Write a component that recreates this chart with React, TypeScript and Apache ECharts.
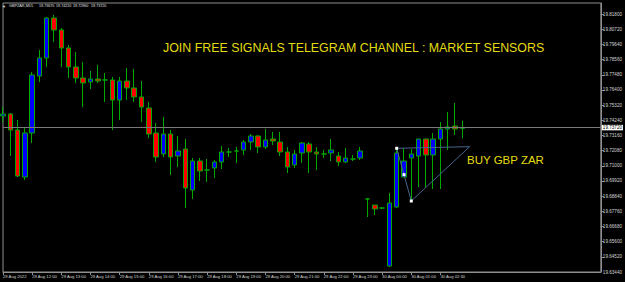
import { useEffect, useRef } from "react";
import * as echarts from "echarts";

const symbolName = "GBPZAR,M15";
const headerValues = ["19.73670", "19.74220", "19.72960", "19.73720"];
const headerX = [39, 56, 73, 91];

const timeLabels = [
  "29 Aug 2022", "29 Aug 12:00", "29 Aug 13:00", "29 Aug 14:00",
  "29 Aug 15:00", "29 Aug 16:00", "29 Aug 17:00", "29 Aug 18:00",
  "29 Aug 19:00", "29 Aug 20:00", "29 Aug 21:00", "29 Aug 22:00",
  "29 Aug 23:00", "30 Aug 00:00", "30 Aug 01:00", "30 Aug 02:30",
];
const labelEvery = 4;
const totalSlots = 83;

const opens = [
  19.74547, 19.74689, 19.7355, 19.70203, 19.73336, 19.77395, 19.78676, 19.81524, 19.8067, 19.79388,
  19.78036, 19.77252, 19.76968, 19.77181, 19.7711, 19.7711, 19.75686, 19.77039, 19.7654, 19.75902,
  19.75116, 19.73336, 19.71841, 19.73265, 19.71698, 19.72197, 19.69278, 19.71342, 19.70702, 19.70844,
  19.71271, 19.71983, 19.72054, 19.72126, 19.72695, 19.73122, 19.72339, 19.72909, 19.72695, 19.71983,
  19.71058, 19.71912, 19.72553, 19.71983, 19.71841, 19.71912, 19.71698, 19.71271, 19.71485, 19.71556,
  19.68638, 19.6821, 19.67996, 19.63866, 19.68068, 19.70203, 19.71556, 19.71698, 19.72909, 19.7177,
  19.72909, 19.73621, 19.73835, 19.7367,
];
const closes = [
  19.74689, 19.7355, 19.70274, 19.73336, 19.77466, 19.78676, 19.81524, 19.8067, 19.79388, 19.78036,
  19.77252, 19.76896, 19.77181, 19.77039, 19.7711, 19.75686, 19.77039, 19.7654, 19.75902, 19.75188,
  19.73265, 19.71627, 19.73265, 19.71627, 19.72054, 19.6942, 19.71342, 19.7063, 19.70702, 19.71271,
  19.71983, 19.71983, 19.72054, 19.72695, 19.73122, 19.72339, 19.72838, 19.72766, 19.71983, 19.70915,
  19.71841, 19.72624, 19.71983, 19.71841, 19.71841, 19.72126, 19.71271, 19.71556, 19.71485, 19.72054,
  19.68638, 19.67925, 19.67996, 19.68353, 19.71912, 19.71342, 19.71841, 19.72909, 19.7177, 19.72909,
  19.73621, 19.73764, 19.73621, 19.7372,
];
const lows = [
  19.7412, 19.71698, 19.70203, 19.6999, 19.72624, 19.76968, 19.78036, 19.79816, 19.78036, 19.77252,
  19.76896, 19.75188, 19.76469, 19.76896, 19.75544, 19.7355, 19.74262, 19.75686, 19.75544, 19.7412,
  19.7298, 19.71271, 19.71627, 19.70346, 19.70915, 19.67996, 19.68638, 19.69919, 19.69848, 19.70132,
  19.70773, 19.71627, 19.712, 19.7177, 19.72126, 19.71912, 19.72197, 19.72482, 19.71698, 19.70488,
  19.70844, 19.712, 19.70488, 19.70702, 19.71556, 19.71342, 19.70986, 19.712, 19.71342, 19.71414,
  19.67355, 19.67497, 19.67925, 19.63796, 19.67996, 19.70203, 19.68424, 19.69492, 19.6942, 19.69349,
  19.69349, 19.72126, 19.73194, 19.7296,
];
const highs = [
  19.75188, 19.7476, 19.74262, 19.73764, 19.7768, 19.79246, 19.81596, 19.81738, 19.80812, 19.79602,
  19.79104, 19.78392, 19.77751, 19.78178, 19.77608, 19.77324, 19.77324, 19.77964, 19.77893, 19.77039,
  19.75544, 19.74048, 19.74476, 19.7355, 19.73122, 19.72909, 19.71556, 19.71556, 19.71485, 19.71414,
  19.7241, 19.72268, 19.72339, 19.72838, 19.73265, 19.73194, 19.73621, 19.73408, 19.73408, 19.72339,
  19.72126, 19.72695, 19.72695, 19.72339, 19.72126, 19.72909, 19.71983, 19.72268, 19.7177, 19.72339,
  19.6871, 19.6821, 19.68068, 19.69064, 19.72268, 19.72268, 19.72197, 19.72909, 19.72909, 19.73336,
  19.7412, 19.74832, 19.75473, 19.7422,
];

const lastPrice = 19.7372;
const lastPriceLabel = "19.73720";
const yMin = 19.6344;
const yMax = 19.8259;
const yStep = 0.0108;

// triangle drawing object: [bar index, price]
const trianglePoints: [number, number][] = [
  [54, 19.72247],
  [56, 19.68495],
  [64, 19.72362],
];
const triangleMid: [number, number] = [55, 19.70371];

const bannerText = "JOIN FREE SIGNALS TELEGRAM CHANNEL : MARKET SENSORS";
const signalText = "BUY GBP ZAR";

const FONT = "Liberation Sans, Arial, sans-serif";
const AXIS_TEXT = "#d4d4d4";
const Y_LABEL_SIZE = 4.6;
// prices are handled in points (1e-5) so that the tick arithmetic is exact
const PT = 100000;
const toPt = (v: number) => Math.round(v * PT);

export default function App() {
  const ref = useRef<HTMLDivElement>(null);

  useEffect(() => {
    document.body.style.margin = "0";
    document.body.style.background = "#000";
    const chart = echarts.init(ref.current!, null, { renderer: "svg" });

    const categories = Array.from({ length: totalSlots }, (_, i) => "b" + i);
    const candles = opens.map((o, i) => [toPt(o), toPt(closes[i]), toPt(lows[i]), toPt(highs[i])]);
    const lastLabelIndex = (timeLabels.length - 1) * labelEvery;
    const showIdx = (i: number) => i % labelEvery === 0 && i <= lastLabelIndex;

    const pc = (p: [number, number]) => [p[0], toPt(p[1])];
    const [A, B, C] = trianglePoints.map(pc);
    const D = pc(triangleMid);
    const triLine = { color: "#48638f", width: 1, type: "solid" as const };
    const lp = toPt(lastPrice);

    const option: any = {
      animation: false,
      backgroundColor: "#000",
      textStyle: { fontFamily: FONT },
      grid: {
        left: 3,
        right: 23,
        top: 3,
        bottom: 10,
        show: true,
        borderColor: "#8f8f8f",
        borderWidth: 1,
        backgroundColor: "#000",
      },
      xAxis: {
        type: "category",
        data: categories,
        boundaryGap: false,
        axisLine: { lineStyle: { color: "#8f8f8f", width: 1 } },
        axisTick: {
          show: true,
          interval: (i: number) => showIdx(i),
          length: 3,
          lineStyle: { color: "#8f8f8f" },
        },
        axisLabel: {
          interval: (i: number) => showIdx(i),
          formatter: (_v: string, i: number) =>
            showIdx(i) ? timeLabels[i / labelEvery] : "",
          color: AXIS_TEXT,
          fontSize: 4.2,
          fontFamily: FONT,
          align: "left",
          margin: 2,
        },
        splitLine: { show: false },
      },
      yAxis: {
        type: "value",
        position: "right",
        min: toPt(yMin),
        max: toPt(yMax),
        interval: toPt(yStep),
        axisLine: { show: true, lineStyle: { color: "#8f8f8f", width: 1 } },
        axisTick: { show: true, length: 3, lineStyle: { color: "#8f8f8f" } },
        axisLabel: {
          color: AXIS_TEXT,
          fontSize: Y_LABEL_SIZE,
          fontFamily: FONT,
          margin: 2,
          showMinLabel: false,
          showMaxLabel: false,
          formatter: (v: number) => (v / PT).toFixed(5),
        },
        splitLine: { show: false },
      },
      graphic: [
        {
          id: "tri",
          type: "text",
          x: 2,
          y: 6,
          style: { text: "▼", fill: "#e0e0e0", font: `4px ${FONT}`, textVerticalAlign: "middle" },
        },
        {
          id: "sym",
          type: "text",
          x: 9,
          y: 6,
          style: { text: symbolName, fill: "#e0e0e0", font: `3.8px ${FONT}`, textVerticalAlign: "middle" },
        },
        ...headerValues.map((t, i) => ({
          id: "hv" + i,
          type: "text",
          x: headerX[i],
          y: 6,
          style: { text: t, fill: "#e0e0e0", font: `3.7px ${FONT}`, textVerticalAlign: "middle" },
        })),
        {
          id: "banner",
          type: "text",
          x: 163,
          y: 47.5,
          style: { text: bannerText, fill: "#e4dc12", font: `12.4px ${FONT}`, textVerticalAlign: "middle" },
        },
        {
          id: "signal",
          type: "text",
          x: 467,
          y: 160,
          style: { text: signalText, fill: "#e4dc12", font: `11.5px ${FONT}`, textVerticalAlign: "middle" },
        },
      ],
      series: [
        {
          type: "candlestick",
          data: candles,
          barWidth: 5,
          clip: true,
          itemStyle: {
            color: "#0000ff",
            color0: "#ff0000",
            borderColor: "#00a800",
            borderColor0: "#00a800",
            borderColorDoji: "#00a800",
            borderWidth: 1,
          },
          markLine: {
            silent: true,
            symbol: "none",
            animation: false,
            precision: 0,
            data: [
              [
                {
                  coord: [0, lp],
                  lineStyle: { color: "#7a7a7a", width: 1, type: "solid" },
                  label: {
                    show: true,
                    position: "end",
                    formatter: lastPriceLabel,
                    backgroundColor: "#ffffff",
                    color: "#000000",
                    fontSize: Y_LABEL_SIZE,
                    fontFamily: FONT,
                    padding: [0.5, 1, 0, 1],
                    distance: 1,
                  },
                },
                { coord: [totalSlots - 1, lp] },
              ],
              [
                { coord: A, lineStyle: triLine, label: { show: false } },
                { coord: C },
              ],
              [
                { coord: A, lineStyle: triLine, label: { show: false } },
                { coord: B },
              ],
              [
                { coord: B, lineStyle: triLine, label: { show: false } },
                { coord: C },
              ],
            ],
          },
          markPoint: {
            silent: true,
            animation: false,
            symbol: "rect",
            symbolSize: 3,
            itemStyle: { color: "#ffffff" },
            label: { show: false },
            data: [{ coord: A }, { coord: D }, { coord: B }],
          },
        },
      ],
    };

    chart.setOption(option);

    // bottom tick label of the price scale, placed through the axis scale
    const yPix = Number(chart.convertToPixel({ yAxisIndex: 0 }, toPt(yMin)));
    const xPix = Number(chart.convertToPixel({ xAxisIndex: 0 }, totalSlots - 1));
    chart.setOption({
      graphic: [
        {
          id: "yMinLabel",
          type: "text",
          x: (isFinite(xPix) ? xPix : 602) + 2,
          y: isFinite(yPix) ? yPix : 272,
          style: {
            text: yMin.toFixed(5),
            fill: AXIS_TEXT,
            font: `${Y_LABEL_SIZE}px ${FONT}`,
            textVerticalAlign: "middle",
          },
        },
      ],
    });

    return () => chart.dispose();
  }, []);

  return (
    <div
      ref={ref}
      style={{ position: "fixed", left: 0, top: 0, width: 625, height: 282, background: "#000" }}
    />
  );
}
